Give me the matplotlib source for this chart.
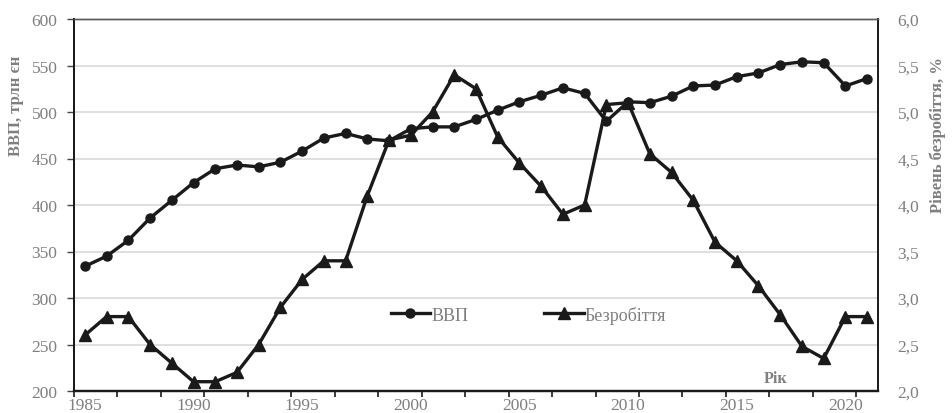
import numpy as np
import matplotlib
matplotlib.use("Agg")
import matplotlib.pyplot as plt
from matplotlib.ticker import FuncFormatter

years = list(range(1985, 2022))
gdp = [334, 345, 362, 386, 405, 424, 439, 443, 441, 446, 458, 472, 477, 471, 469,
       482, 484, 484, 492, 502, 511, 518, 526, 520, 490, 511, 510, 517, 528, 529,
       538, 542, 551, 554, 553, 528, 536]
unemp = [2.6, 2.8, 2.8, 2.5, 2.3, 2.1, 2.1, 2.2, 2.5, 2.9, 3.2, 3.4, 3.4, 4.1, 4.7,
         4.75, 5.0, 5.4, 5.25, 4.73, 4.45, 4.2, 3.9, 4.0, 5.08, 5.1, 4.55, 4.35, 4.05,
         3.6, 3.4, 3.13, 2.82, 2.48, 2.35, 2.8, 2.8]
gdp_ticks = list(range(200, 601, 50))
unemp_ticks = [2.0, 2.5, 3.0, 3.5, 4.0, 4.5, 5.0, 5.5, 6.0]
year_labels = list(range(1985, 2021, 5))

serif = ["Liberation Serif", "DejaVu Serif"]
plt.rcParams["font.family"] = serif
gray = "#7f7f7f"
ink = "#1a1a1a"

fig = plt.figure(figsize=(9.52, 4.14), dpi=100)
ax = fig.add_axes([74/952, 1-392/414, (878-74)/952, (392-20)/414])
ax2 = ax.twinx()

l1, = ax.plot(years, gdp, color=ink, lw=2.4, marker="o", ms=6.5, label="ВВП", zorder=3)
l2, = ax2.plot(years, unemp, color=ink, lw=2.4, marker="^", ms=8.5, label="Безробіття", zorder=3)

ax.set_xlim(1984.5, 2021.5)
ax.set_ylim(200, 600)
ax2.set_ylim(2.0, 6.0)

ax.set_yticks(gdp_ticks)
ax2.set_yticks(unemp_ticks)
ax2.yaxis.set_major_formatter(FuncFormatter(lambda v, p: f"{v:.1f}".replace(".", ",")))

ax.set_xticks(year_labels)
ax.set_xticks(np.arange(1984.5, 2021.6, 2), minor=True)
ax.tick_params(axis="x", which="major", length=0, pad=4, labelsize=12.5, labelcolor=gray)
ax.tick_params(axis="x", which="minor", length=4, width=1.2, direction="out", color=ink)
ax.tick_params(axis="y", which="major", length=5, width=1.0, direction="out", color="#444444",
               pad=7, labelsize=12.5, labelcolor=gray)
ax2.tick_params(axis="y", length=0, pad=14, labelsize=12.5, labelcolor=gray)

ax.grid(axis="y", color="#d9d9d9", lw=1.2)
ax.set_axisbelow(True)

for a in (ax, ax2):
    a.spines["left"].set_color(ink)
    a.spines["bottom"].set_color(ink)
    a.spines["right"].set_color(ink)
    a.spines["top"].set_color("#595959")
    a.spines["left"].set_linewidth(1.4)
    a.spines["bottom"].set_linewidth(1.6)
    a.spines["right"].set_linewidth(1.2)
    a.spines["top"].set_linewidth(1.0)

ax.set_ylabel("ВВП, трлн єн", color=gray, fontsize=12, fontweight="bold")
ax.yaxis.set_label_coords(-0.062, 0.77)
ax2.set_ylabel("Рівень безробіття, %", color=gray, fontsize=12, fontweight="bold")
ax2.yaxis.set_label_coords(1.064, 0.69)

ax.text(0.872, 0.034, "Рік", transform=ax.transAxes, color=gray, fontsize=11.5,
        fontweight="bold", ha="center", va="center")

leg = ax.legend(handles=[l1, l2], loc="center", bbox_to_anchor=(0.565, 0.205), ncol=2,
                frameon=False, fontsize=13, handlelength=2.2, handletextpad=0.05,
                columnspacing=4.2, labelcolor=gray)

fig.savefig("out.png", dpi=100)
